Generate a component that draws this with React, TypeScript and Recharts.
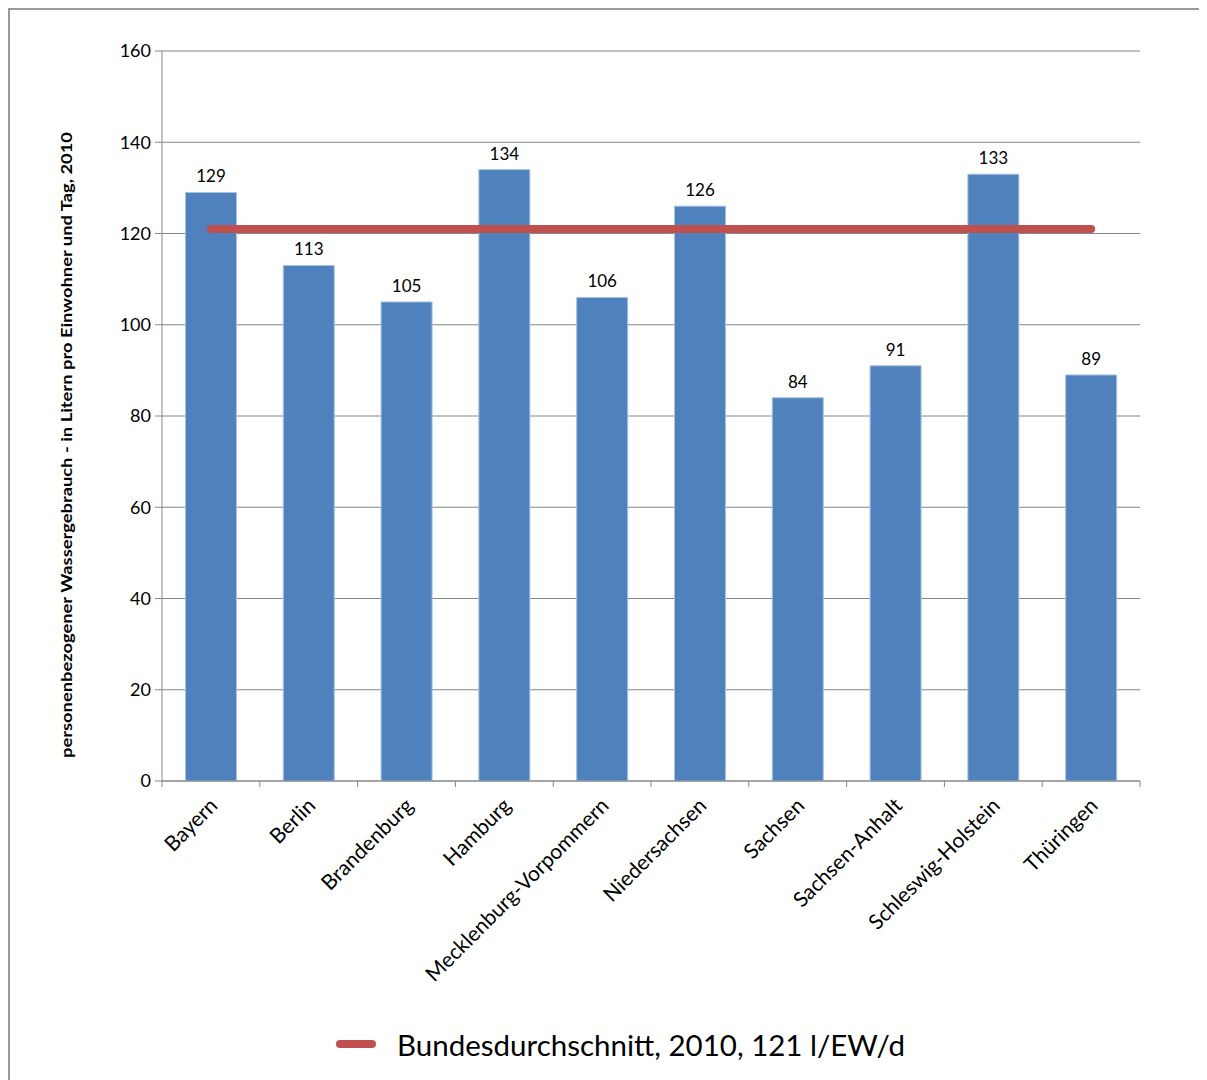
import React from "react";
import {
  ComposedChart,
  Bar,
  Line,
  XAxis,
  YAxis,
  CartesianGrid,
  Legend,
  LabelList,
} from "recharts";

// Bundesländer und personenbezogener Wassergebrauch (l/EW/d), 2010
const laender = [
  "Bayern",
  "Berlin",
  "Brandenburg",
  "Hamburg",
  "Mecklenburg-Vorpommern",
  "Niedersachsen",
  "Sachsen",
  "Sachsen-Anhalt",
  "Schleswig-Holstein",
  "Thüringen",
];
const verbrauch = [129, 113, 105, 134, 106, 126, 84, 91, 133, 89];
const bundesdurchschnitt = 121;
const yTicks = [0, 20, 40, 60, 80, 100, 120, 140, 160];

const legendText = "Bundesdurchschnitt, 2010, 121 l/EW/d";
const yTitle =
  "personenbezogener Wassergebrauch - in Litern pro Einwohner und Tag, 2010";

const FONT = "Lato, 'Open Sans', sans-serif";
const AXIS = "#868686";

const data = laender.map((name, i) => ({
  name,
  wert: verbrauch[i],
  schnitt: bundesdurchschnitt,
}));

// rotated category label + tick marks on the band edges
function CategoryTick(props: any) {
  const { x, y, payload, index } = props;
  const half = payload && payload.offset ? payload.offset : 48.9;
  const tx = x + 8;
  const ty = y + 26;
  return (
    <g>
      <line x1={x - half} y1={y} x2={x - half} y2={y + 6} stroke={AXIS} />
      {index === laender.length - 1 && (
        <line x1={x + half} y1={y} x2={x + half} y2={y + 6} stroke={AXIS} />
      )}
      <text
        x={tx}
        y={ty}
        textAnchor="end"
        transform={`rotate(-45, ${tx}, ${ty})`}
        fontFamily={FONT}
        fontSize={21}
        fill="#000"
      >
        {payload.value}
      </text>
    </g>
  );
}

function LegendContent() {
  return (
    <div
      style={{
        display: "flex",
        alignItems: "center",
        height: 72,
        paddingLeft: 326,
        fontFamily: FONT,
        fontSize: 29.5,
        color: "#000",
      }}
    >
      <span
        style={{
          display: "inline-block",
          width: 40,
          height: 8,
          borderRadius: 4,
          background: "#C0504D",
          marginRight: 21,
        }}
      />
      <span>{legendText}</span>
    </div>
  );
}

export default function App() {
  return (
    <div
      style={{
        width: 1199,
        height: 1072,
        borderLeft: "2px solid #9a9a9a",
        borderTop: "2px solid #9a9a9a",
        boxSizing: "border-box",
      }}
    >
      <ComposedChart
        width={1197}
        height={1070}
        data={data}
        margin={{ top: 41, right: 67, left: 0, bottom: 0 }}
        barCategoryGap="24%"
      >
        <CartesianGrid vertical={false} stroke={AXIS} strokeWidth={1} />
        <XAxis
          dataKey="name"
          height={227}
          interval={0}
          tickLine={false}
          tickSize={0}
          tickMargin={0}
          axisLine={{ stroke: AXIS }}
          tick={<CategoryTick />}
        />
        <YAxis
          width={152}
          domain={[0, 160]}
          ticks={yTicks}
          tickSize={7}
          tickMargin={4}
          axisLine={{ stroke: AXIS }}
          tickLine={{ stroke: AXIS }}
          tick={{ fontFamily: FONT, fontSize: 18, fill: "#000" }}
          label={{
            content: () => (
              <text
                x={58}
                y={435}
                transform="rotate(-90, 58, 435)"
                textAnchor="middle"
                dominantBaseline="middle"
                fontFamily={FONT}
                fontWeight="bold"
                fontSize={15}
                fill="#000"
                textLength={626}
                lengthAdjust="spacingAndGlyphs"
              >
                {yTitle}
              </text>
            ),
          }}
        />
        <Bar
          dataKey="wert"
          fill="#4F81BD"
          stroke="#A9C1E0"
          strokeWidth={1}
          isAnimationActive={false}
          legendType="none"
        >
          <LabelList
            dataKey="wert"
            position="top"
            offset={10}
            fontFamily={FONT}
            fontSize={17}
            fill="#000"
          />
        </Bar>
        <Line
          dataKey="schnitt"
          stroke="#C0504D"
          strokeWidth={8}
          strokeLinecap="round"
          dot={false}
          activeDot={false}
          isAnimationActive={false}
          name={legendText}
        />
        <Legend
          verticalAlign="bottom"
          height={72}
          wrapperStyle={{ left: 0, width: 1197 }}
          content={<LegendContent />}
        />
      </ComposedChart>
    </div>
  );
}
